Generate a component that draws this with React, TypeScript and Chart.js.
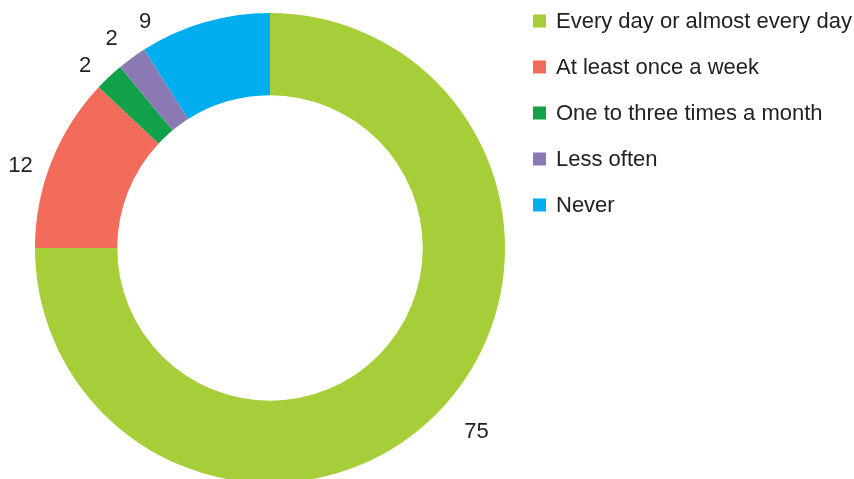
import React, { useEffect, useRef } from "react";
import { Chart, registerables } from "chart.js";

Chart.register(...registerables);

const categories = [
  "Every day or almost every day",
  "At least once a week",
  "One to three times a month",
  "Less often",
  "Never",
];
const values = [75, 12, 2, 2, 9];
const colors = ["#a6ce39", "#f26b5b", "#10a14a", "#8b79b4", "#00aeef"];

// label placement tweaks (degrees of rotation from slice middle, px gap outside ring)
const labelAngleNudge = [-3.4, -3.2, -2.1, -1.0, -12.6];
const labelGap = [41, 28, 25, 28, 24];

const FONT = "'Liberation Sans', Arial, sans-serif";

const labelPlugin = {
  id: "outerLabelsAndLegend",
  afterDatasetsDraw(chart: any) {
    const ctx = chart.ctx;
    const meta = chart.getDatasetMeta(0);
    ctx.save();
    ctx.font = `22px ${FONT}`;
    ctx.fillStyle = "#222";
    ctx.textAlign = "center";
    ctx.textBaseline = "middle";
    meta.data.forEach((arc: any, i: number) => {
      const p = arc.getProps(["x", "y", "startAngle", "endAngle", "outerRadius"], true);
      const mid = (p.startAngle + p.endAngle) / 2 + (labelAngleNudge[i] * Math.PI) / 180;
      const r = p.outerRadius + labelGap[i];
      ctx.fillText(String(chart.data.datasets[0].data[i]), p.x + Math.cos(mid) * r, p.y + Math.sin(mid) * r + 1);
    });
    // legend
    const sqX = 533;
    const txtX = 556;
    const y0 = 21;
    const step = 46;
    const sq = 13;
    ctx.textAlign = "left";
    (chart.data.labels as string[]).forEach((lab: string, i: number) => {
      const cy = y0 + i * step;
      ctx.fillStyle = chart.data.datasets[0].backgroundColor[i];
      ctx.fillRect(sqX, cy - sq / 2, sq, sq);
      ctx.fillStyle = "#222";
      ctx.fillText(lab, txtX, cy + 1);
    });
    ctx.restore();
  },
};

export default function App() {
  const ref = useRef<HTMLCanvasElement>(null);
  useEffect(() => {
    if (!ref.current) return;
    const chart = new Chart(ref.current, {
      type: "doughnut",
      data: {
        labels: categories,
        datasets: [
          {
            data: values,
            backgroundColor: colors,
            borderWidth: 0,
            hoverOffset: 0,
          },
        ],
      },
      options: {
        responsive: false,
        animation: false,
        cutout: "65%",
        layout: { padding: { left: 35, right: 349, top: 13, bottom: 13 } },
        plugins: {
          legend: { display: false },
          tooltip: { enabled: false },
        },
      },
      plugins: [labelPlugin],
    });
    return () => chart.destroy();
  }, []);
  return (
    <div
      style={{
        position: "fixed",
        left: 0,
        top: 0,
        width: 854,
        height: 479,
        overflow: "hidden",
        background: "#fff",
      }}
    >
      <canvas ref={ref} width={854} height={496} style={{ display: "block" }} />
    </div>
  );
}
